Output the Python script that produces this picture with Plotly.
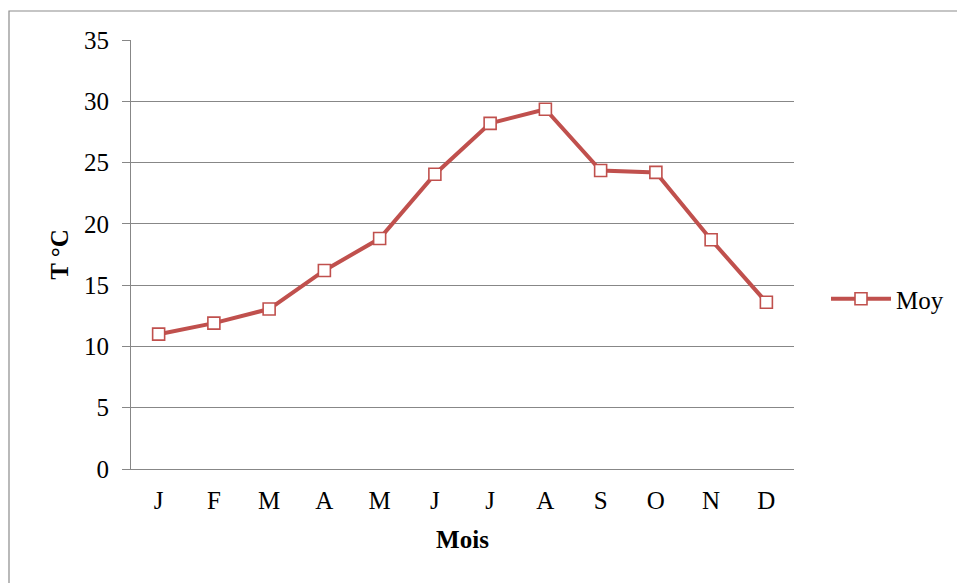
import plotly.graph_objects as go

# Monthly mean temperature
months = ["J", "F", "M", "A", "M", "J", "J", "A", "S", "O", "N", "D"]
moy = [11.0, 11.9, 13.05, 16.2, 18.8, 24.05, 28.2, 29.35, 24.35, 24.2, 18.7, 13.6]
y_ticks = [0, 5, 10, 15, 20, 25, 30, 35]

RED = "#C0504D"
GRID = "#878787"
FONT = "Liberation Serif"

W, H = 957, 583
L, R, T, B = 131, 163, 40, 114  # plot area spans x 131..794, y 40..469
pw, ph = W - L - R, H - T - B


def serif(size=25):
    return dict(family=FONT, size=size, color="black")


fig = go.Figure()
fig.add_trace(go.Scatter(
    x=list(range(len(months))),
    y=moy,
    mode="lines+markers",
    name="Moy",
    line=dict(color=RED, width=4),
    marker=dict(symbol="square", size=12, color="white",
                line=dict(color=RED, width=1.6)),
))


def px_x(p):
    return (p - L) / pw


def px_y(p):
    return (H - B - p) / ph


# outer chart frame (only its left and top edges fall inside the page)
fig.add_shape(type="rect", xref="paper", yref="paper",
              x0=px_x(9), x1=px_x(W + 20), y0=px_y(H + 20), y1=px_y(11),
              line=dict(color="#8C8C8C", width=1.2), fillcolor="rgba(0,0,0,0)",
              layer="below")

fig.update_layout(
    width=W, height=H,
    margin=dict(l=L, r=R, t=T, b=B, autoexpand=False),
    paper_bgcolor="white", plot_bgcolor="white",
    font=serif(),
    showlegend=True,
    legend=dict(x=px_x(826), y=px_y(299), xanchor="left", yanchor="middle",
                font=serif(), bgcolor="rgba(0,0,0,0)",
                itemwidth=60, tracegroupgap=0),
    xaxis=dict(
        range=[-0.5, len(months) - 0.5],
        tickmode="array",
        tickvals=list(range(len(months))),
        ticktext=months,
        showgrid=False, zeroline=False,
        showline=True, linecolor=GRID, linewidth=1.2,
        ticks="", ticklabelstandoff=9,
        tickfont=serif(),
        title=dict(text="<b>Mois</b>", font=serif(), standoff=17),
        fixedrange=True,
    ),
    yaxis=dict(
        range=[0, 35],
        tickmode="array",
        tickvals=y_ticks,
        showgrid=True, gridcolor=GRID, gridwidth=1.2,
        zeroline=False,
        showline=True, linecolor=GRID, linewidth=1.2,
        ticks="outside", ticklen=8, tickcolor=GRID, tickwidth=1.2,
        ticklabelstandoff=8,
        tickfont=serif(),
        title=dict(text="<b>T °C</b>", font=serif(), standoff=8),
        fixedrange=True,
    ),
)

fig.write_html("out.html")
